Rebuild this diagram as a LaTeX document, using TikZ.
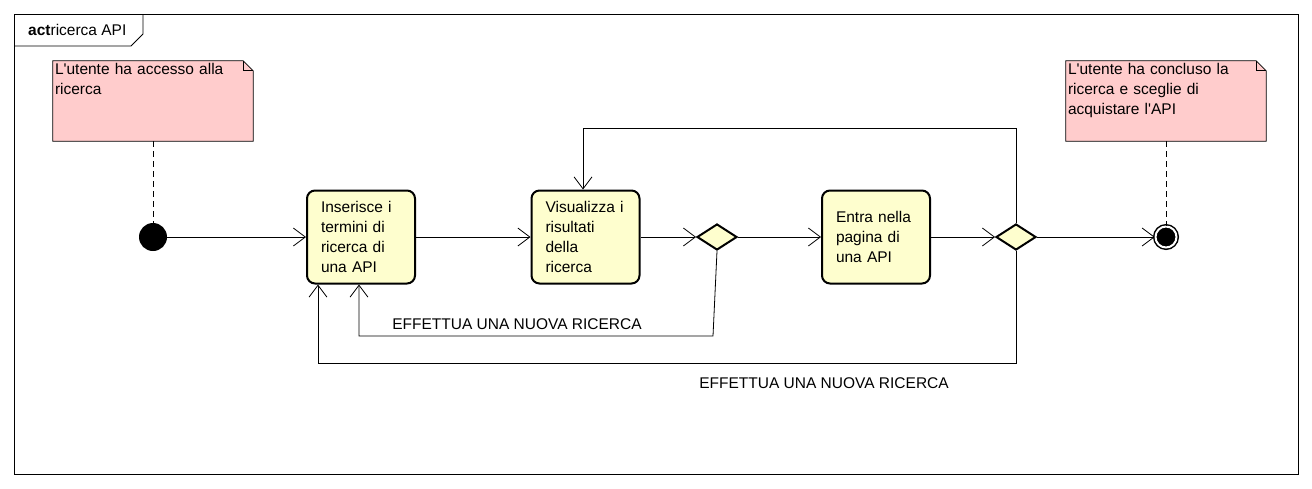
\documentclass[tikz,border=0pt]{standalone}
\usepackage{fontspec}
\setmainfont{Liberation Sans}[Ligatures=TeXOff]
\usepackage{tikz}
\usetikzlibrary{arrows.meta,shapes.geometric}

\definecolor{actfill}{RGB}{254,254,206}
\definecolor{notefill}{RGB}{255,204,204}

\tikzset{
  txt/.style={font=\fontsize{15.5}{20}\selectfont},
  action/.style={txt, draw, fill=actfill, line width=2pt, rounded corners=8pt,
    minimum width=108pt, minimum height=93pt, text width=80pt, align=left, inner sep=0pt},
  decision/.style={diamond, draw, fill=actfill, line width=2pt, inner sep=0pt,
    minimum width=40pt, minimum height=26pt},
  startnode/.style={circle, fill=black, minimum size=28pt, inner sep=0pt},
  endnode/.style={circle, fill=black, draw, double=white, double distance=2pt,
    line width=1.5pt, minimum size=21pt, inner sep=0pt},
  notebox/.style={minimum width=200pt, minimum height=80pt, inner sep=0pt},
  notetext/.style={txt, text width=196pt, align=left, inner sep=2pt, anchor=north west},
  flow/.style={-{Straight Barb[length=12pt,width=18pt]}, line width=0.8pt},
  anchorline/.style={line width=0.8pt, dash pattern=on 6pt off 4pt},
}

\begin{document}
\begin{tikzpicture}[x=1pt,y=-1pt]
\useasboundingbox (0,0) rectangle (1312,488);

% frame
\draw[line width=0.8pt] (14,14) rectangle (1298,474);
\draw[line width=0.8pt] (14,46) -- (131,46) -- (143,34) -- (143,14);
\node (title) [txt, anchor=west, inner sep=0pt] at (28,30) {\textbf{act}ricerca API};

% notes
\node (n1) [notebox] at (153,101) {};
\filldraw[fill=notefill, line width=0.8pt] (n1.north west) -- ([xshift=-10pt]n1.north east)
  -- ([yshift=-10pt]n1.north east) -- (n1.south east) -- (n1.south west) -- cycle;
\draw[line width=0.8pt] ([xshift=-10pt]n1.north east) |- ([yshift=-10pt]n1.north east);
\node (n1t) [notetext] at (n1.north west) {L'utente ha accesso alla\\ricerca};

\node (n2) [notebox] at (1166,101) {};
\filldraw[fill=notefill, line width=0.8pt] (n2.north west) -- ([xshift=-10pt]n2.north east)
  -- ([yshift=-10pt]n2.north east) -- (n2.south east) -- (n2.south west) -- cycle;
\draw[line width=0.8pt] ([xshift=-10pt]n2.north east) |- ([yshift=-10pt]n2.north east);
\node (n2t) [notetext] at (n2.north west) {L'utente ha concluso la\\ricerca e sceglie di\\acquistare l'API};

% nodes
\node (start) [startnode] at (153,237) {};
\node (a1) [action] at (361,237) {Inserisce i\\termini di\\ricerca di\\una API};
\node (a2) [action] at (585.5,237) {Visualizza i\\risultati\\della\\ricerca};
\node (d1) [decision] at (717,237) {};
\node (a3) [action] at (876,237) {Entra nella\\pagina di\\una API};
\node (d2) [decision] at (1016,237) {};
\node (stop) [endnode] at (1166,237) {};

\draw[anchorline] (n1.south) -- (start);
\draw[anchorline] (n2.south) -- (stop);

% flows
\draw[flow] (start) -- (a1);
\draw[flow] (a1) -- (a2);
\draw[flow] (a2) -- (d1.west);
\draw[flow] (d1) -- (a3);
\draw[flow] (a3) -- (d2.west);
\draw[flow] (d2) -- (stop);

% loops
\coordinate (loopT) at (583,128);
\draw[flow] (d2.north) |- (loopT) -- (loopT |- a2.north);

\coordinate (loopA) at (713,336);
\coordinate (loopA2) at (359,336);
\draw[flow] (d1.south) -- (loopA) -- (loopA2) -- (loopA2 |- a1.south);
\node (lab1) [txt, inner sep=0pt] at (517,324) {EFFETTUA UNA NUOVA RICERCA};

\coordinate (loopB) at (318,363);
\draw[flow] (d2.south) |- (loopB) -- (loopB |- a1.south);
\node (lab2) [txt, inner sep=0pt] at (824,383) {EFFETTUA UNA NUOVA RICERCA};
\end{tikzpicture}
\end{document}
